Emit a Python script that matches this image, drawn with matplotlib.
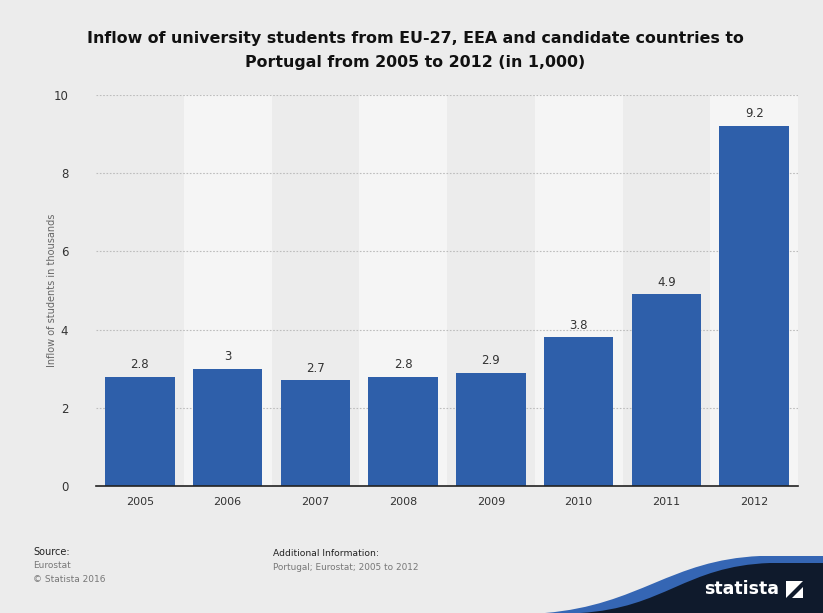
import matplotlib
matplotlib.use("Agg")
import matplotlib.pyplot as plt
from matplotlib.path import Path
from matplotlib.patches import PathPatch, Rectangle, Polygon
from matplotlib.transforms import Affine2D

years = ["2005", "2006", "2007", "2008", "2009", "2010", "2011", "2012"]
values = [2.8, 3, 2.7, 2.8, 2.9, 3.8, 4.9, 9.2]
value_labels = ["2.8", "3", "2.7", "2.8", "2.9", "3.8", "4.9", "9.2"]
yticks = [0, 2, 4, 6, 8, 10]

W, H = 823, 613
fig = plt.figure(figsize=(W / 100, H / 100), dpi=100)
fig.patch.set_facecolor("#ececec")

ax = fig.add_axes([96 / W, 1 - 486 / H, (798 - 96) / W, (486 - 95) / H])
ax.set_facecolor("#ececec")
n = len(years)
x = list(range(n))
for i in x:
    if i % 2 == 1:
        ax.axvspan(i - 0.5, i + 0.5, color="#f5f5f5", zorder=0, lw=0)
ax.set_xlim(-0.5, n - 0.5)
ax.set_ylim(0, 10)
for t in yticks[1:]:
    ax.axhline(t, color="#bdbdbd", lw=0.8, ls=(0, (1.5, 1.5)), zorder=1)
bars = ax.bar(x, values, width=0.79, color="#2e5faa", zorder=2)
for xi, v, lab in zip(x, values, value_labels):
    ax.text(xi, v + 0.15, lab, ha="center", va="bottom", fontsize=8.5, color="#333333")
ax.set_xticks(x)
ax.set_xticklabels(years, fontsize=8, color="#333333")
ax.set_yticks(yticks)
ax.set_yticklabels([str(t) for t in yticks], fontsize=8.5, color="#333333")
ax.tick_params(axis="both", length=0, pad=8)
ax.tick_params(axis="y", pad=20)
for s in ["top", "right", "left"]:
    ax.spines[s].set_visible(False)
ax.spines["bottom"].set_color("#222222")
ax.spines["bottom"].set_linewidth(1.2)
ax.set_ylabel("Inflow of students in thousands", fontsize=7, color="#666666")
ax.yaxis.set_label_coords(-0.056, 0.5)

fig.text(0.505, 1 - 38 / H, "Inflow of university students from EU-27, EEA and candidate countries to",
         ha="center", va="center", fontsize=11.4, fontweight="bold", color="#111111")
fig.text(0.505, 1 - 62 / H, "Portugal from 2005 to 2012 (in 1,000)",
         ha="center", va="center", fontsize=11.4, fontweight="bold", color="#111111")

# footer texts
fig.text(33 / W, 1 - 552 / H, "Source:", fontsize=7, color="#222222", va="center")
fig.text(33 / W, 1 - 565 / H, "Eurostat", fontsize=6.5, color="#777777", va="center")
fig.text(33 / W, 1 - 579 / H, "© Statista 2016", fontsize=6.5, color="#777777", va="center")
fig.text(273 / W, 1 - 553 / H, "Additional Information:", fontsize=6.6, color="#222222", va="center")
fig.text(273 / W, 1 - 568 / H, "Portugal; Eurostat; 2005 to 2012", fontsize=6.4, color="#777777", va="center")

tr = Affine2D().scale(1 / W, -1 / H).translate(0, 1) + fig.transFigure

codes = [Path.MOVETO, Path.CURVE4, Path.CURVE4, Path.CURVE4, Path.LINETO, Path.LINETO, Path.CLOSEPOLY]
blue_verts = [(545, 613), (640, 605), (670, 560), (760, 556), (823, 556), (823, 613), (545, 613)]
fig.patches.append(PathPatch(Path(blue_verts, codes), transform=tr, facecolor="#3566b4", lw=0, zorder=5))
navy_verts = [(580, 613), (665, 608), (685, 566), (770, 563), (823, 563), (823, 613), (580, 613)]
fig.patches.append(PathPatch(Path(navy_verts, codes), transform=tr, facecolor="#0f1a2c", lw=0, zorder=6))

fig.text(704 / W, 1 - 589 / H, "statista", fontsize=12.5, fontweight="bold", color="white",
         va="center", ha="left", zorder=7)
fig.patches.append(Rectangle((786, 581), 17, 17, transform=tr, facecolor="white", lw=0, zorder=7))
fig.patches.append(Polygon([(786, 598), (803, 581), (803, 587), (792, 598)], closed=True,
                           transform=tr, facecolor="#0f1a2c", lw=0, zorder=8))

fig.savefig("out.png", dpi=100, facecolor=fig.get_facecolor())
